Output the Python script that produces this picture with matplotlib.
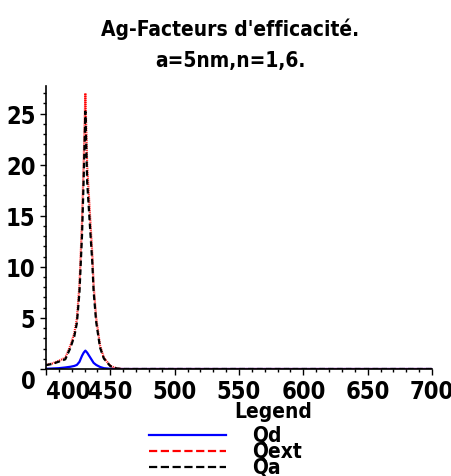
import matplotlib
matplotlib.use("Agg")
import matplotlib.pyplot as plt
from matplotlib.lines import Line2D
from matplotlib import font_manager
from matplotlib.font_manager import FontProperties

# Wavelength grid (nm) and efficiency factors
wavelength = [400, 405, 410, 415, 419, 422, 424, 426, 428, 429.3, 430.6, 432,
              434.5, 436, 437, 439, 442, 445, 450, 455, 460, 500, 550, 600,
              650, 700]
q_ext = [0.4, 0.55, 0.8, 1.1, 2.3, 3.5, 4.9, 8.2, 14.4, 20.3, 27.0, 19.9,
         14.4, 11.2, 8.2, 5.0, 2.3, 1.1, 0.3, 0.05, 0.0, 0.0, 0.0, 0.0,
         0.0, 0.0]
q_d = [0.02, 0.05, 0.08, 0.15, 0.22, 0.3, 0.4, 0.7, 1.3, 1.6, 1.8, 1.6,
       1.1, 0.8, 0.6, 0.4, 0.2, 0.08, 0.02, 0.0, 0.0, 0.0, 0.0, 0.0,
       0.0, 0.0]
q_a = [0.38, 0.5, 0.72, 0.95, 2.08, 3.2, 4.5, 7.5, 13.1, 18.7, 25.2, 18.3,
       13.3, 10.4, 7.6, 4.6, 2.1, 1.02, 0.28, 0.05, 0.0, 0.0, 0.0, 0.0,
       0.0, 0.0]

series_labels = ["Qd", "Qext", "Qa"]
x_ticks = [400, 450, 500, 550, 600, 650, 700]
y_ticks = [0, 5, 10, 15, 20, 25]
title_lines = ["Ag-Facteurs d'efficacité.", "a=5nm,n=1,6."]

path = font_manager.findfont(FontProperties(family="DejaVu Sans",
                                            stretch="condensed", weight="bold"))
STRETCH = "condensed" if "Condensed" in path else "normal"
FONT = "DejaVu Sans"


def bold(size):
    return dict(fontfamily=FONT, fontweight="bold", fontstretch=STRETCH,
                fontsize=size)


W, H = 451, 477
fig = plt.figure(figsize=(W / 100, H / 100), dpi=100)
ax = fig.add_axes([46 / W, 1 - 370 / H, (432 - 46) / W, (370 - 87) / H])

l_d, = ax.plot(wavelength, q_d, color="#0000ff", lw=1.6, solid_capstyle="butt")
l_ext, = ax.plot(wavelength, q_ext, color="#ff0000", lw=1.6,
                 linestyle=(0, (0.45, 0.45)))
l_a, = ax.plot(wavelength, q_a, color="black", lw=1.6,
               linestyle=(0, (2.5, 1.5)))

ax.set_xlim(400, 700)
ax.set_ylim(0, 27.7)
for s in ("top", "right"):
    ax.spines[s].set_visible(False)
for s in ("left", "bottom"):
    ax.spines[s].set_linewidth(1.2)

ax.set_xticks(x_ticks)
ax.set_xticks(range(400, 701, 10), minor=True)
ax.set_yticks(y_ticks)
ax.set_yticks(range(0, 28), minor=True)
ax.set_xticklabels([str(v) for v in x_ticks])
ax.set_yticklabels([str(v) for v in y_ticks])
ax.tick_params(which="major", length=4.5, width=1.0, pad=3)
ax.tick_params(which="minor", length=2.5, width=1.0)
for lab in ax.get_xticklabels() + ax.get_yticklabels():
    lab.update(bold(17))
# keep the origin labels apart from each other
ax.get_xticklabels()[0].set_horizontalalignment("left")
ax.get_yticklabels()[0].set_verticalalignment("top")

fig.text(230 / W, 1 - 36 / H, title_lines[0], ha="center", va="baseline",
         **bold(15))
fig.text(230 / W, 1 - 67 / H, title_lines[1], ha="center", va="baseline",
         **bold(15))

# legend block under the axis
fig.text(273 / W, 1 - 418 / H, "Legend", ha="center", va="baseline",
         **bold(15))
for line, label, yy in zip([l_d, l_ext, l_a], series_labels, [436, 452, 468]):
    fig.add_artist(Line2D([149 / W, 226 / W], [1 - yy / H, 1 - yy / H],
                          transform=fig.transFigure, color=line.get_color(),
                          lw=line.get_linewidth(), linestyle=line.get_linestyle()))
    fig.text(252 / W, 1 - (yy + 6) / H, label, ha="left", va="baseline",
             **bold(15))

fig.savefig("out.png", dpi=100)
